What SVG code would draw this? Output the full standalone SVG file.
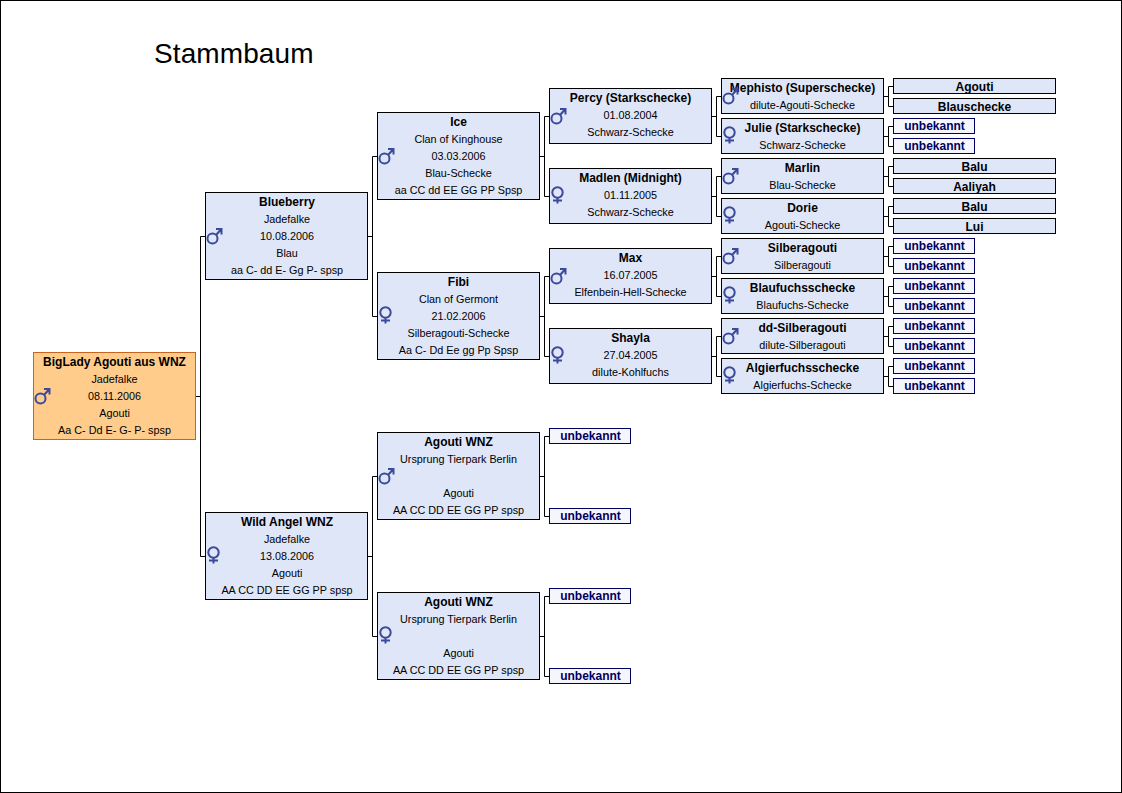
<svg xmlns="http://www.w3.org/2000/svg" width="1122" height="793" viewBox="0 0 1122 793">
<style>
text{font-family:"Liberation Sans",Arial,sans-serif;font-size:10.8px;text-anchor:middle;fill:#000}
.b{font-weight:bold;font-size:12px}
.t{font-size:28px;text-anchor:start;letter-spacing:.1px}
.n{fill:#dfe6f7;stroke:#000;stroke-width:1}
.r{fill:#ffcc8c;stroke:#c8641e;stroke-width:1}
.u{fill:#f5f6fd;stroke:#000060;stroke-width:1}
.ut{font-weight:bold;font-size:12px;fill:#000060}
.c{fill:none;stroke:#000;stroke-width:1}
.g{fill:none;stroke:#3c4a9c;stroke-width:2}
</style>
<defs>
<g id="male"><circle class="g" cx="7.5" cy="2.500" r="5"/><path class="g" d="M11 -1L16 -6.500M11 -7H16.500V-1.500"/></g>
<g id="female"><circle class="g" cx="8.500" cy="-3.500" r="5.200"/><path class="g" d="M8.500 2V7.500M4 4.500H13"/></g>
</defs>
<rect x="0.500" y="0.500" width="1121" height="792" fill="#fff" stroke="#000"/>
<text class="t" x="154" y="63">Stammbaum</text>
<g id="connectors">
<path class="c" d="M196 396.500H200.500M200.500 236.500V556.500M200.500 236.500H205M200.500 556.500H205"/>
<path class="c" d="M368 236.500H372.500M372.500 156.500V316.500M372.500 156.500H377M372.500 316.500H377"/>
<path class="c" d="M368 556.500H372.500M372.500 476.500V636.500M372.500 476.500H377M372.500 636.500H377"/>
<path class="c" d="M540 156.500H544.500M544.500 116.500V196.500M544.500 116.500H549M544.500 196.500H549"/>
<path class="c" d="M540 316.500H544.500M544.500 276.500V356.500M544.500 276.500H549M544.500 356.500H549"/>
<path class="c" d="M540 476.500H544.500M544.500 436.500V516.500M544.500 436.500H549M544.500 516.500H549"/>
<path class="c" d="M540 636.500H544.500M544.500 596.500V676.500M544.500 596.500H549M544.500 676.500H549"/>
<path class="c" d="M712 116.500H716.500M716.500 96.500V136.500M716.500 96.500H721M716.500 136.500H721"/>
<path class="c" d="M712 196.500H716.500M716.500 176.500V216.500M716.500 176.500H721M716.500 216.500H721"/>
<path class="c" d="M712 276.500H716.500M716.500 256.500V296.500M716.500 256.500H721M716.500 296.500H721"/>
<path class="c" d="M712 356.500H716.500M716.500 336.500V376.500M716.500 336.500H721M716.500 376.500H721"/>
<path class="c" d="M884 96.500H888.500M888.500 86.500V106.500M888.500 86.500H893M888.500 106.500H893"/>
<path class="c" d="M884 136.500H888.500M888.500 126.500V146.500M888.500 126.500H893M888.500 146.500H893"/>
<path class="c" d="M884 176.500H888.500M888.500 166.500V186.500M888.500 166.500H893M888.500 186.500H893"/>
<path class="c" d="M884 216.500H888.500M888.500 206.500V226.500M888.500 206.500H893M888.500 226.500H893"/>
<path class="c" d="M884 256.500H888.500M888.500 246.500V266.500M888.500 246.500H893M888.500 266.500H893"/>
<path class="c" d="M884 296.500H888.500M888.500 286.500V306.500M888.500 286.500H893M888.500 306.500H893"/>
<path class="c" d="M884 336.500H888.500M888.500 326.500V346.500M888.500 326.500H893M888.500 346.500H893"/>
<path class="c" d="M884 376.500H888.500M888.500 366.500V386.500M888.500 366.500H893M888.500 386.500H893"/>
</g>
<g id="n-biglady"><rect class="r" x="33.500" y="352.500" width="162" height="87"/><text class="b" x="114.500" y="366">BigLady Agouti aus WNZ</text><text x="114.500" y="383">Jadefalke</text><text x="114.500" y="400">08.11.2006</text><text x="114.500" y="417">Agouti</text><text x="114.500" y="434">Aa C- Dd E- G- P- spsp</text><use href="#male" x="33" y="396"/></g>
<g id="n-blueberry"><rect class="n" x="205.500" y="192.500" width="162" height="87"/><text class="b" x="287" y="206">Blueberry</text><text x="287" y="223">Jadefalke</text><text x="287" y="240">10.08.2006</text><text x="287" y="257">Blau</text><text x="287" y="274">aa C- dd E- Gg P- spsp</text><use href="#male" x="205" y="236"/></g>
<g id="n-wildangel"><rect class="n" x="205.500" y="512.500" width="162" height="87"/><text class="b" x="287" y="526">Wild Angel WNZ</text><text x="287" y="543">Jadefalke</text><text x="287" y="560">13.08.2006</text><text x="287" y="577">Agouti</text><text x="287" y="594">AA CC DD EE GG PP spsp</text><use href="#female" x="205" y="556"/></g>
<g id="n-ice"><rect class="n" x="377.500" y="112.500" width="162" height="87"/><text class="b" x="458.500" y="126">Ice</text><text x="458.500" y="143">Clan of Kinghouse</text><text x="458.500" y="160">03.03.2006</text><text x="458.500" y="177">Blau-Schecke</text><text x="458.500" y="194">aa CC dd EE GG PP Spsp</text><use href="#male" x="377" y="156"/></g>
<g id="n-fibi"><rect class="n" x="377.500" y="272.500" width="162" height="87"/><text class="b" x="458.500" y="286">Fibi</text><text x="458.500" y="303">Clan of Germont</text><text x="458.500" y="320">21.02.2006</text><text x="458.500" y="337">Silberagouti-Schecke</text><text x="458.500" y="354">Aa C- Dd Ee gg Pp Spsp</text><use href="#female" x="377" y="316"/></g>
<g id="n-agouti1"><rect class="n" x="377.500" y="432.500" width="162" height="87"/><text class="b" x="458.500" y="446">Agouti WNZ</text><text x="458.500" y="463">Ursprung Tierpark Berlin</text><text x="458.500" y="497">Agouti</text><text x="458.500" y="514">AA CC DD EE GG PP spsp</text><use href="#male" x="377" y="476"/></g>
<g id="n-agouti2"><rect class="n" x="377.500" y="592.500" width="162" height="87"/><text class="b" x="458.500" y="606">Agouti WNZ</text><text x="458.500" y="623">Ursprung Tierpark Berlin</text><text x="458.500" y="657">Agouti</text><text x="458.500" y="674">AA CC DD EE GG PP spsp</text><use href="#female" x="377" y="636"/></g>
<g id="n-percy"><rect class="n" x="549.500" y="88.500" width="162" height="55"/><text class="b" x="630.500" y="102">Percy (Starkschecke)</text><text x="630.500" y="119">01.08.2004</text><text x="630.500" y="136">Schwarz-Schecke</text><use href="#male" x="549" y="116"/></g>
<g id="n-madlen"><rect class="n" x="549.500" y="168.500" width="162" height="55"/><text class="b" x="630.500" y="182">Madlen (Midnight)</text><text x="630.500" y="199">01.11.2005</text><text x="630.500" y="216">Schwarz-Schecke</text><use href="#female" x="549" y="196"/></g>
<g id="n-max"><rect class="n" x="549.500" y="248.500" width="162" height="55"/><text class="b" x="630.500" y="262">Max</text><text x="630.500" y="279">16.07.2005</text><text x="630.500" y="296">Elfenbein-Hell-Schecke</text><use href="#male" x="549" y="276"/></g>
<g id="n-shayla"><rect class="n" x="549.500" y="328.500" width="162" height="55"/><text class="b" x="630.500" y="342">Shayla</text><text x="630.500" y="359">27.04.2005</text><text x="630.500" y="376">dilute-Kohlfuchs</text><use href="#female" x="549" y="356"/></g>
<g id="n-mephisto"><rect class="n" x="721.500" y="78.500" width="162" height="35"/><text class="b" x="802.500" y="92">Mephisto (Superschecke)</text><text x="802.500" y="109">dilute-Agouti-Schecke</text><use href="#male" x="721" y="96"/></g>
<g id="n-julie"><rect class="n" x="721.500" y="118.500" width="162" height="35"/><text class="b" x="802.500" y="132">Julie (Starkschecke)</text><text x="802.500" y="149">Schwarz-Schecke</text><use href="#female" x="721" y="136"/></g>
<g id="n-marlin"><rect class="n" x="721.500" y="158.500" width="162" height="35"/><text class="b" x="802.500" y="172">Marlin</text><text x="802.500" y="189">Blau-Schecke</text><use href="#male" x="721" y="176"/></g>
<g id="n-dorie"><rect class="n" x="721.500" y="198.500" width="162" height="35"/><text class="b" x="802.500" y="212">Dorie</text><text x="802.500" y="229">Agouti-Schecke</text><use href="#female" x="721" y="216"/></g>
<g id="n-silberagouti"><rect class="n" x="721.500" y="238.500" width="162" height="35"/><text class="b" x="802.500" y="252">Silberagouti</text><text x="802.500" y="269">Silberagouti</text><use href="#male" x="721" y="256"/></g>
<g id="n-blaufuchs"><rect class="n" x="721.500" y="278.500" width="162" height="35"/><text class="b" x="802.500" y="292">Blaufuchsschecke</text><text x="802.500" y="309">Blaufuchs-Schecke</text><use href="#female" x="721" y="296"/></g>
<g id="n-dd"><rect class="n" x="721.500" y="318.500" width="162" height="35"/><text class="b" x="802.500" y="332">dd-Silberagouti</text><text x="802.500" y="349">dilute-Silberagouti</text><use href="#male" x="721" y="336"/></g>
<g id="n-algier"><rect class="n" x="721.500" y="358.500" width="162" height="35"/><text class="b" x="802.500" y="372">Algierfuchsschecke</text><text x="802.500" y="389">Algierfuchs-Schecke</text><use href="#female" x="721" y="376"/></g>
<g id="p1"><rect class="n" x="893.500" y="78.500" width="162" height="15"/><text class="b" x="974.500" y="91">Agouti</text></g>
<g id="p2"><rect class="n" x="893.500" y="98.500" width="162" height="15"/><text class="b" x="974.500" y="111">Blauschecke</text></g>
<g id="p3"><rect class="u" x="893.500" y="118.500" width="81" height="15"/><text class="ut" x="934.500" y="130">unbekannt</text></g>
<g id="p4"><rect class="u" x="893.500" y="138.500" width="81" height="15"/><text class="ut" x="934.500" y="150">unbekannt</text></g>
<g id="p5"><rect class="n" x="893.500" y="158.500" width="162" height="15"/><text class="b" x="974.500" y="171">Balu</text></g>
<g id="p6"><rect class="n" x="893.500" y="178.500" width="162" height="15"/><text class="b" x="974.500" y="191">Aaliyah</text></g>
<g id="p7"><rect class="n" x="893.500" y="198.500" width="162" height="15"/><text class="b" x="974.500" y="211">Balu</text></g>
<g id="p8"><rect class="n" x="893.500" y="218.500" width="162" height="15"/><text class="b" x="974.500" y="231">Lui</text></g>
<g id="p9"><rect class="u" x="893.500" y="238.500" width="81" height="15"/><text class="ut" x="934.500" y="250">unbekannt</text></g>
<g id="p10"><rect class="u" x="893.500" y="258.500" width="81" height="15"/><text class="ut" x="934.500" y="270">unbekannt</text></g>
<g id="p11"><rect class="u" x="893.500" y="278.500" width="81" height="15"/><text class="ut" x="934.500" y="290">unbekannt</text></g>
<g id="p12"><rect class="u" x="893.500" y="298.500" width="81" height="15"/><text class="ut" x="934.500" y="310">unbekannt</text></g>
<g id="p13"><rect class="u" x="893.500" y="318.500" width="81" height="15"/><text class="ut" x="934.500" y="330">unbekannt</text></g>
<g id="p14"><rect class="u" x="893.500" y="338.500" width="81" height="15"/><text class="ut" x="934.500" y="350">unbekannt</text></g>
<g id="p15"><rect class="u" x="893.500" y="358.500" width="81" height="15"/><text class="ut" x="934.500" y="370">unbekannt</text></g>
<g id="p16"><rect class="u" x="893.500" y="378.500" width="81" height="15"/><text class="ut" x="934.500" y="390">unbekannt</text></g>
<g id="q1"><rect class="u" x="549.500" y="428.500" width="81" height="15"/><text class="ut" x="590.500" y="440">unbekannt</text></g>
<g id="q2"><rect class="u" x="549.500" y="508.500" width="81" height="15"/><text class="ut" x="590.500" y="520">unbekannt</text></g>
<g id="q3"><rect class="u" x="549.500" y="588.500" width="81" height="15"/><text class="ut" x="590.500" y="600">unbekannt</text></g>
<g id="q4"><rect class="u" x="549.500" y="668.500" width="81" height="15"/><text class="ut" x="590.500" y="680">unbekannt</text></g>
</svg>
